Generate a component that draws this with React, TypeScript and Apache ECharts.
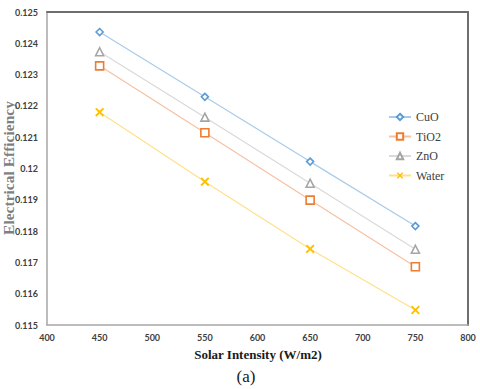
import React, { useEffect, useRef } from "react";
import * as echarts from "echarts";

const intensities = [450, 550, 650, 750];
const cuo = [0.12436, 0.12229, 0.12022, 0.11816];
const tio2 = [0.12328, 0.12114, 0.11899, 0.11686];
const zno = [0.12373, 0.12164, 0.11953, 0.11742];
const water = [0.1218, 0.11958, 0.11743, 0.11548];

const seriesNames = ["CuO", "TiO2", "ZnO", "Water"];

const X_PATH =
  "path://M0,1.5L1.5,0L5,3.5L8.5,0L10,1.5L6.5,5L10,8.5L8.5,10L5,6.5L1.5,10L0,8.5L3.5,5Z";

export default function App() {
  const ref = useRef<HTMLDivElement>(null);
  useEffect(() => {
    document.body.style.margin = "0";
    if (!ref.current) return;
    const chart = echarts.init(ref.current, undefined, { renderer: "svg" });
    const pairs = (vals: number[]) => intensities.map((x, i) => [x, vals[i]]);
    const hollow = (name: string, vals: number[], symbol: string, size: number, mColor: string, lColor: string) => ({
      name,
      type: "line",
      data: pairs(vals),
      symbol,
      symbolSize: size,
      showAllSymbol: true,
      lineStyle: { color: lColor, width: 1.2 },
      itemStyle: { color: "#ffffff", borderColor: mColor, borderWidth: 1.6 },
      z: 3,
    });
    const labelFont = {
      fontFamily: "Lato",
      fontWeight: "bold" as const,
      fontSize: 9,
      color: "#404040",
    };
    chart.setOption({
      animation: false,
      backgroundColor: "#ffffff",
      grid: { left: 47, right: 12, top: 12, bottom: 64 },
      legend: {
        orient: "vertical",
        left: 388,
        top: 111,
        padding: 0,
        itemWidth: 22,
        itemHeight: 8,
        itemGap: 7.5,
        data: seriesNames,
        textStyle: { fontFamily: "Liberation Serif", fontSize: 12, color: "#404040" },
      },
      xAxis: [
        {
          type: "value",
          min: 400,
          max: 800,
          interval: 50,
          axisLine: { show: true, lineStyle: { color: "#a6a6a6", width: 1.5 } },
          axisTick: { show: false },
          splitLine: { show: false },
          axisLabel: { ...labelFont, margin: 8 },
        },
        {
          type: "value",
          position: "top",
          min: 400,
          max: 800,
          axisLine: { show: true, onZero: false, lineStyle: { color: "#6e6e6e", width: 2 } },
          axisTick: { show: false },
          axisLabel: { show: false },
          splitLine: { show: false },
        },
      ],
      yAxis: [
        {
          type: "value",
          min: 0.115,
          max: 0.125,
          interval: 0.001,
          axisLine: { show: true, lineStyle: { color: "#a6a6a6", width: 1.5 } },
          axisTick: { show: false },
          splitLine: { show: false },
          axisLabel: {
            ...labelFont,
            margin: 9,
            formatter: (v: number) => String(parseFloat(v.toFixed(3))),
          },
        },
        {
          type: "value",
          position: "right",
          min: 0.115,
          max: 0.125,
          axisLine: { show: true, onZero: false, lineStyle: { color: "#6e6e6e", width: 2 } },
          axisTick: { show: false },
          axisLabel: { show: false },
          splitLine: { show: false },
        },
      ],
      series: [
        hollow("CuO", cuo, "diamond", 7, "#5b9bd5", "#a9cbea"),
        hollow("TiO2", tio2, "rect", 8, "#ed7d31", "#f6c1a3"),
        hollow("ZnO", zno, "triangle", 8, "#a5a5a5", "#d9d9d9"),
        {
          name: "Water",
          type: "line",
          data: pairs(water),
          symbol: X_PATH,
          symbolSize: 9,
          lineStyle: { color: "#ffe08a", width: 1.2 },
          itemStyle: { color: "#ffc000" },
          z: 3,
        },
      ],
      graphic: [
        {
          type: "text",
          x: 8,
          y: 168,
          rotation: Math.PI / 2,
          style: {
            text: "Electrical Efficiency",
            font: "bold 15.5px 'Liberation Serif'",
            fill: "#7f7f7f",
            textAlign: "center",
            textVerticalAlign: "middle",
          },
        },
        {
          type: "text",
          x: 258,
          y: 354,
          style: {
            text: "Solar Intensity (W/m2)",
            font: "bold 13px 'Liberation Serif'",
            fill: "#1a1a1a",
            textAlign: "center",
            textVerticalAlign: "middle",
          },
        },
        {
          type: "text",
          x: 246,
          y: 376,
          style: {
            text: "(a)",
            font: "17px 'Liberation Serif'",
            fill: "#1a1a1a",
            textAlign: "center",
            textVerticalAlign: "middle",
          },
        },
      ],
    });
    return () => chart.dispose();
  }, []);
  return <div ref={ref} style={{ width: 480, height: 389 }} />;
}
